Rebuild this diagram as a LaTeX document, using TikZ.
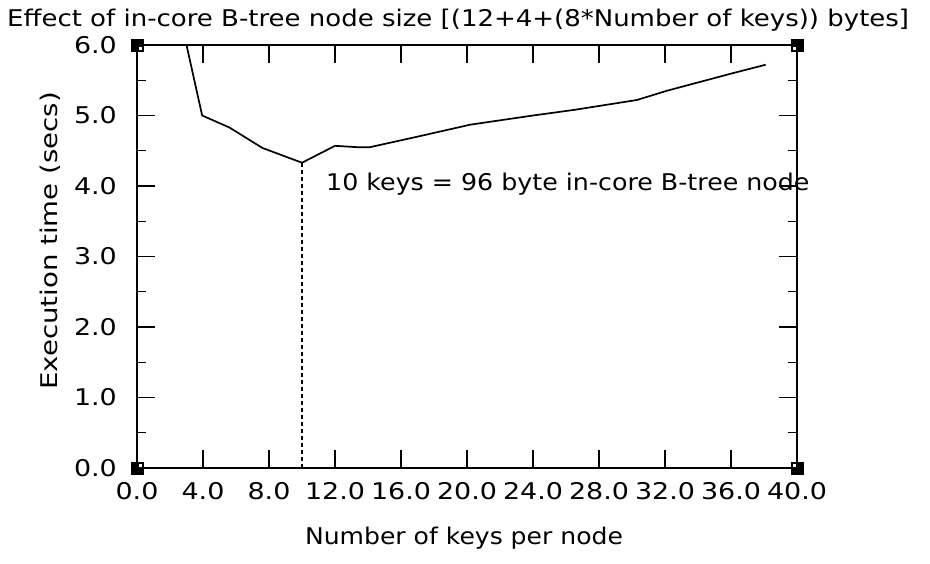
\documentclass[tikz,border=0pt]{standalone}
\usepackage{fontspec}
\setmainfont{DejaVu Sans}
\newcommand{\widetxt}[2]{\scalebox{#1}[1]{#2}}
\begin{document}
\begin{tikzpicture}[x=1pt,y=-1pt,
  axis/.style={line width=1.6pt},
  tk/.style={line width=1.4pt},
  curve/.style={line width=1.7pt, line join=round},
  lbl/.style={font=\fontsize{23}{26}\selectfont, inner sep=0pt},
  corner/.style={fill=black},
  notch/.style={fill=white}]
\useasboundingbox (0,0) rectangle (930,563);
% frame
\draw[axis] (137,45) rectangle (797,468);
% x ticks
\foreach \i in {1,...,9} {
  \draw[tk] ({137+66*\i},468) -- ++(0,-18);
  \draw[tk] ({137+66*\i},45) -- ++(0,18);
}
% y ticks
\foreach \j in {1,...,11} {
  \pgfmathsetmacro{\len}{ifthenelse(mod(\j,2)==0,18,9)}
  \draw[tk] (137,{468-35.25*\j}) -- ++(\len,0);
  \draw[tk] (797,{468-35.25*\j}) -- ++(-\len,0);
}
% corner squares
\foreach \cx/\cy/\sx/\sy in {137/45/1/1, 797/45/-1/1, 137/468/1/-1, 797/468/-1/-1} {
  \fill[corner] ({\cx-6.5},{\cy-6.5}) rectangle ({\cx+6.5},{\cy+6.5});
  \fill[notch] ({\cx+1.5*\sx},{\cy+1.5*\sy}) rectangle ({\cx+4.5*\sx},{\cy+4.5*\sy});
}
% x tick labels
\foreach \v [count=\i from 0] in {0.0,4.0,8.0,12.0,16.0,20.0,24.0,28.0,32.0,36.0,40.0} {
  \node[lbl] (xl\i) at ({137+66*\i},491) {\widetxt{1.17}{\v}};
}
% y tick labels
\foreach \v [count=\i from 0] in {0.0,1.0,2.0,3.0,4.0,5.0,6.0} {
  \node[lbl, anchor=east] (yl\i) at (117,{468-70.5*\i}) {\widetxt{1.17}{\v}};
}
% axis titles
\node[lbl] (xtitle) at (464,538) {\widetxt{1.09}{Number of keys per node}};
\node[lbl, rotate=90] (ytitle) at (50,241) {\widetxt{1.2}{Execution time (secs)}};
\node[lbl, anchor=base west] (title) at (7,26) {\widetxt{1.13}{Effect of in-core B-tree node size [(12+4+(8*Number of keys)) bytes]}};
\node[lbl, anchor=base west] (note) at (326,190) {\widetxt{1.1}{10 keys = 96 byte in-core B-tree node}};
% data
\begin{scope}[shift={(137,468)}, x=16.5pt, y=70.5pt]
  \coordinate (minpt) at (10,4.33);
  \coordinate (minfoot) at (10,0);
  \draw[curve] (3.0,6.0) -- (3.95,5.0) -- (5.6,4.83) -- (7.6,4.54) -- (minpt)
    -- (12,4.57) -- (13.4,4.55) -- (14.1,4.55) -- (17,4.7) -- (20.2,4.87)
    -- (24,5.0) -- (26.5,5.08) -- (30.3,5.22) -- (32.1,5.35) -- (36.1,5.6) -- (38.1,5.72);
  \draw[line width=1.3pt, dash pattern=on 4pt off 3pt] (minpt) -- (minfoot);
\end{scope}
\end{tikzpicture}
\end{document}
